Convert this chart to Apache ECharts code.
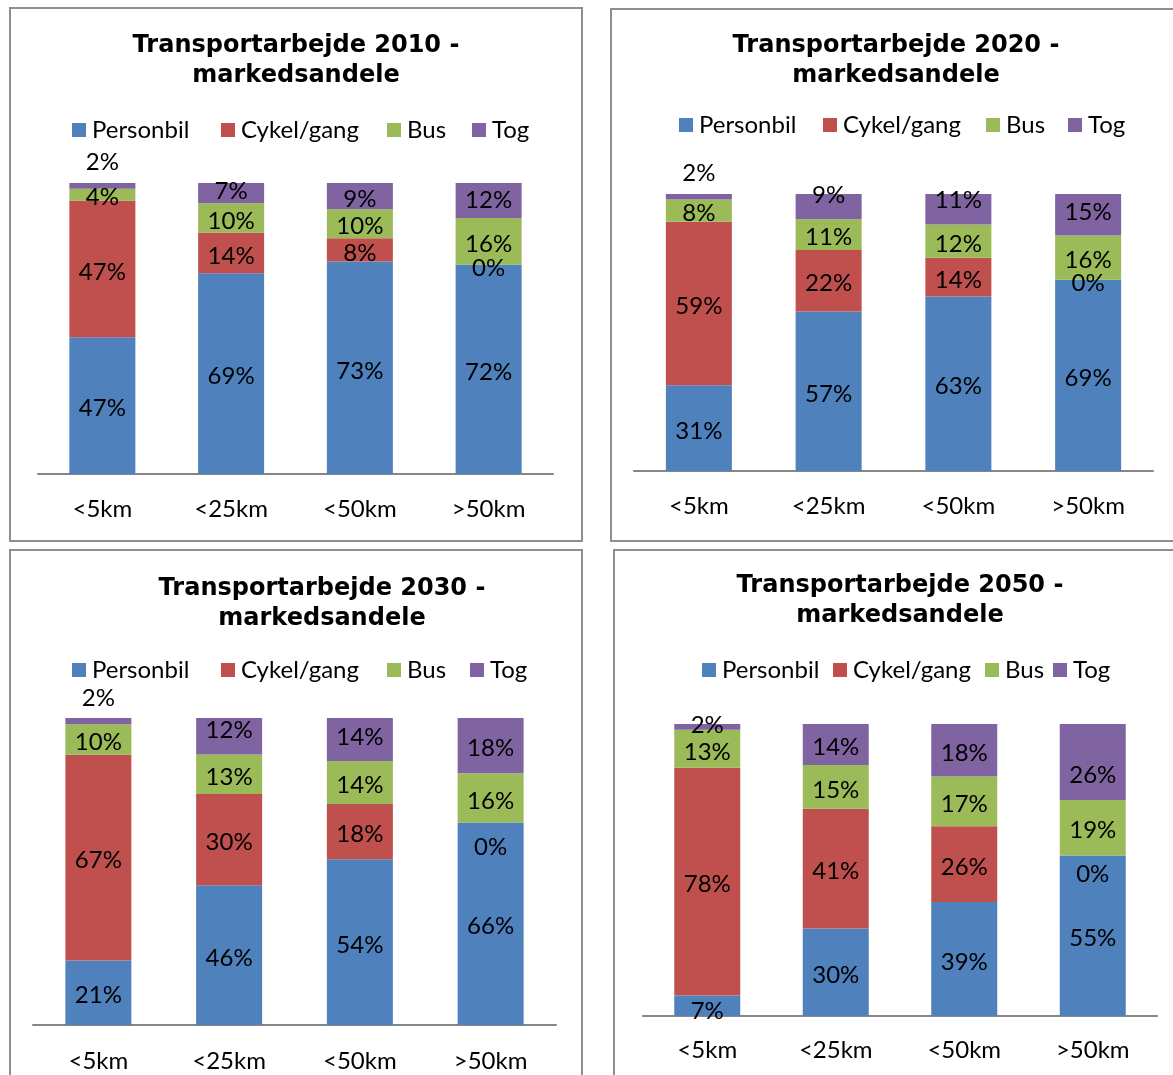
<!DOCTYPE html>
<html><head><meta charset="utf-8">
<script src="https://cdn.jsdelivr.net/npm/echarts@6/dist/echarts.min.js"></script>
<style>html,body{margin:0;padding:0;background:#fff}#c{width:1173px;height:1075px}</style>
</head><body><div id="c"></div>
<script>
// ---- data ----
const categories = ['<5km', '<25km', '<50km', '>50km'];
const seriesNames = ['Personbil', 'Cykel/gang', 'Bus', 'Tog'];
const years = ['2010', '2020', '2030', '2050'];

const personbil2010 = [47, 69, 73, 72];
const cykel2010     = [47, 14, 8, 0];
const bus2010       = [4, 10, 10, 16];
const tog2010       = [2, 7, 9, 12];

const personbil2020 = [31, 57, 63, 69];
const cykel2020     = [59, 22, 14, 0];
const bus2020       = [8, 11, 12, 16];
const tog2020       = [2, 9, 11, 15];

const personbil2030 = [21, 46, 54, 66];
const cykel2030     = [67, 30, 18, 0];
const bus2030       = [10, 13, 14, 16];
const tog2030       = [2, 12, 14, 18];

const personbil2050 = [7, 30, 39, 55];
const cykel2050     = [78, 41, 26, 0];
const bus2050       = [13, 15, 17, 19];
const tog2050       = [2, 14, 18, 26];

const yearData = [
  [personbil2010, cykel2010, bus2010, tog2010],
  [personbil2020, cykel2020, bus2020, tog2020],
  [personbil2030, cykel2030, bus2030, tog2030],
  [personbil2050, cykel2050, bus2050, tog2050]
];

// ---- layout / style ----
const colors = ['#4F81BD', '#C0504D', '#9BBB59', '#8064A2'];
const labelFont = 'Lato';
const fontSize = 24;
const panels = [
  { box: [10, 8, 572, 533],  titleX: 296, titleY: 31,  legendY: 130, legendX: [72, 221, 387, 472],
    grid: { left: 38, top: 183, width: 515, height: 291 }, margin: 23 },
  { box: [611, 9, 572, 532], titleX: 896, titleY: 31,  legendY: 125, legendX: [679, 823, 986, 1068],
    grid: { left: 634, top: 194, width: 519, height: 277 }, margin: 23 },
  { box: [10, 550, 572, 540], titleX: 322, titleY: 574, legendY: 670, legendX: [72, 221, 387, 470],
    grid: { left: 33, top: 718, width: 523, height: 307 }, margin: 24 },
  { box: [614, 550, 572, 540], titleX: 900, titleY: 571, legendY: 670, legendX: [702, 833, 985, 1053],
    grid: { left: 643, top: 724, width: 514, height: 292 }, margin: 22 }
];
// manual label nudges (panel, series, category) -> dy
const labelBaseDy = 3;
const labelNudge = {
  '0-3-0': -27, '0-3-1': -5, '0-3-3': -3, '0-1-3': 1,
  '1-3-0': -27, '1-3-1': -14, '1-3-2': -12, '1-3-3': -6,
  '2-3-0': -26, '2-3-1': -9, '2-3-2': -5, '2-1-3': 22,
  '3-3-0': -5, '3-3-3': 10, '3-1-3': 16, '3-0-0': 2
};

const option = {
  animation: false,
  backgroundColor: '#fff',
  title: [], legend: [], grid: [], xAxis: [], yAxis: [], series: [],
  graphic: []
};

panels.forEach((p, pi) => {
  option.graphic.push({
    type: 'rect', shape: { x: p.box[0], y: p.box[1], width: p.box[2], height: p.box[3] },
    style: { fill: 'none', stroke: '#8e8e8e', lineWidth: 2 }, silent: true, z: -1
  });
  option.title.push({
    text: 'Transportarbejde ' + years[pi] + ' -\nmarkedsandele',
    left: p.titleX, top: p.titleY, textAlign: 'center', padding: 0,
    textStyle: { fontFamily: 'DejaVu Sans', fontWeight: 'bold', fontSize: 24, lineHeight: 30, color: '#000' }
  });
  seriesNames.forEach((n, si) => {
    option.legend.push({
      data: [n], left: p.legendX[si], top: p.legendY - 12, padding: 0,
      icon: 'rect', itemWidth: 14, itemHeight: 14, itemGap: 0, selectedMode: false,
      textStyle: { fontFamily: labelFont, fontSize: fontSize, color: '#000', lineHeight: 14, padding: [0, 0, 0, 1] }
    });
  });
  option.grid.push(Object.assign({}, p.grid));
  option.xAxis.push({
    type: 'category', data: categories, gridIndex: pi,
    axisLine: { lineStyle: { color: '#868686', width: 2 } },
    axisTick: { show: false },
    axisLabel: { fontFamily: labelFont, fontSize: fontSize, color: '#000', margin: p.margin }
  });
  option.yAxis.push({ type: 'value', min: 0, max: 100, show: false, gridIndex: pi });

  const rows = yearData[pi];
  const sums = categories.map((c, ci) => rows.reduce((a, r) => a + r[ci], 0));
  rows.forEach((vals, si) => {
    option.series.push({
      type: 'bar', name: seriesNames[si], stack: 'p' + pi,
      xAxisIndex: pi, yAxisIndex: pi, barWidth: 66,
      itemStyle: { color: colors[si] },
      label: {
        show: true, position: 'inside', fontFamily: labelFont, fontSize: fontSize, color: '#000',
        offset: [0, labelBaseDy],
        formatter: (prm) => prm.data.raw + '%'
      },
      data: vals.map((v, ci) => {
        const d = { value: v * 100 / sums[ci], raw: v };
        const k = pi + '-' + si + '-' + ci;
        if (labelNudge[k] !== undefined) d.label = { offset: [0, labelBaseDy + labelNudge[k]] };
        return d;
      })
    });
  });
});

const chart = echarts.init(document.getElementById('c'), null, { renderer: 'canvas' });
chart.setOption(option);
</script>
</body></html>
